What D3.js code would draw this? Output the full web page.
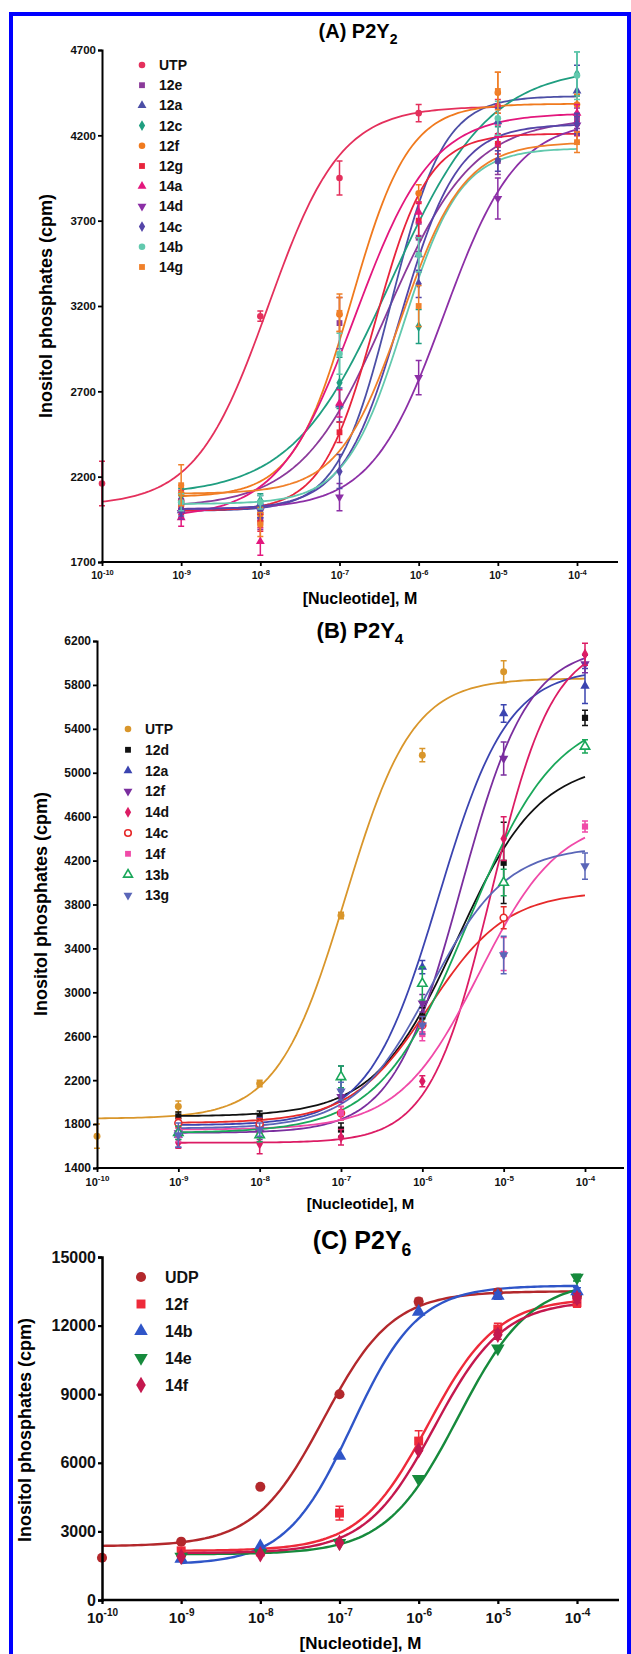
<!DOCTYPE html>
<html>
<head>
<meta charset="utf-8">
<script src="https://cdn.jsdelivr.net/npm/d3@7"></script>
<style>
  body { margin: 0; background: #fff; }
  svg { display: block; font-family: "Liberation Sans", Arial, sans-serif; font-weight: bold; }
</style>
</head>
<body>
<div id="chart"></div>
<script>
// log10 of nucleotide concentration (M) for every measured point
const doses = [-10, -9, -8, -7, -6, -5, -4];
const xTickExp = [-10, -9, -8, -7, -6, -5, -4];

// ---- (A) P2Y2 ----
const aNames = ["UTP", "12e", "12a", "12c", "12f", "12g", "14a", "14d", "14c", "14b", "14g"];
const aYTicks = [1700, 2200, 2700, 3200, 3700, 4200, 4700];
const aMeans = [
  [2160, 2060, 3140, 3950, 4330, 4370, null],
  [null, 2060, 1950, 3100, 3600, 4050, 4300],
  [null, 2000, 2040, 2620, 3500, 4280, 4460],
  [null, 2090, 2060, 2750, 3080, 4150, 4560],
  [null, 2100, 1980, 3150, 3860, 4450, 4380],
  [null, 2020, 1930, 2460, 3700, 4150, 4210],
  [null, 1960, 1820, 2630, 3750, 4200, 4330],
  [null, 1990, 2000, 2080, 2780, 3830, 4260],
  [null, 2010, 2000, 2230, 3330, 4050, 4270],
  [null, 2050, 2050, 2920, 3500, 4300, 4550],
  [null, 2150, 1920, 3160, 3200, 4460, 4160]
];
const aErrs = [
  [130, 60, 30, 100, 50, 40, null],
  [null, 50, 60, 150, 80, 80, 60],
  [null, 40, 50, 100, 100, 80, 150],
  [null, 40, 40, 150, 100, 100, 130],
  [null, 50, 40, 100, 50, 120, 60],
  [null, 40, 50, 60, 100, 60, 50],
  [null, 50, 80, 80, 60, 60, 50],
  [null, 40, 40, 80, 100, 120, 60],
  [null, 40, 40, 100, 80, 60, 60],
  [null, 50, 40, 120, 100, 100, 140],
  [null, 120, 70, 110, 120, 110, 60]
];
// fitted curve: bottom, top, logEC50, hill slope, first and last log dose
const aFits = [
  [2030, 4370, -7.9, 0.95, -10, -5],
  [2020, 4300, -6.4, 0.8, -9, -4],
  [2000, 4430, -6.35, 1.3, -9, -4],
  [2090, 4600, -6.35, 0.7, -9, -4],
  [2080, 4385, -6.85, 1.2, -9, -4],
  [2000, 4210, -6.55, 1.3, -9, -4],
  [1960, 4330, -6.8, 0.9, -9, -4],
  [2010, 4290, -5.68, 0.95, -9, -4],
  [2010, 4265, -6.23, 1.2, -9, -4],
  [2040, 4125, -6.2, 1.2, -9, -4],
  [2100, 4160, -6.22, 1.1, -9, -4]
];

// ---- (B) P2Y4 ----
const bNames = ["UTP", "12d", "12a", "12f", "14d", "14c", "14f", "13b", "13g"];
const bYTicks = [1400, 1800, 2200, 2600, 3000, 3400, 3800, 4200, 4600, 5000, 5400, 5800, 6200];
const bMeans = [
  [1690, 1960, 2170, 3700, 5160, 5920, null],
  [null, 1870, 1870, 1750, 2780, 4180, 5500],
  [null, 1700, 1800, 2230, 3230, 5540, 5790],
  [null, 1720, 1720, 2050, 2900, 5130, 5990],
  [null, 1630, 1620, 1680, 2190, 4400, 6080],
  [null, 1810, 1800, 1900, 2700, 3680, null],
  [null, 1700, 1700, 1900, 2620, 3350, 4510],
  [null, 1720, 1700, 2230, 3080, 4000, 5240],
  [null, 1700, 1750, 2100, 2700, 3340, 4150]
];
const bErrs = [
  [110, 50, 30, 30, 60, 100, null],
  [null, 40, 50, 60, 80, 370, 70],
  [null, 110, 60, 100, 60, 80, 160],
  [null, 60, 60, 50, 80, 150, 80],
  [null, 50, 90, 70, 50, 200, 100],
  [null, 40, 50, 60, 80, 100, null],
  [null, 60, 60, 60, 60, 150, 50],
  [null, 60, 60, 100, 150, 120, 60],
  [null, 110, 60, 80, 80, 170, 120]
];
const bFits = [
  [1850, 5860, -6.95, 1.05, -10, -4],
  [1870, 5100, -5.57, 0.86, -9, -4],
  [1790, 5950, -5.8, 1.02, -9, -4],
  [1720, 6150, -5.53, 1.05, -9, -4],
  [1630, 6200, -5.15, 1.15, -9, -4],
  [1810, 3920, -5.92, 0.91, -9, -4],
  [1750, 4600, -5.3, 0.88, -9, -4],
  [1720, 5550, -5.44, 0.8, -9, -4],
  [1760, 4330, -5.9, 0.93, -9, -4]
];

// ---- (C) P2Y6 ----
const cNames = ["UDP", "12f", "14b", "14e", "14f"];
const cYTicks = [0, 3000, 6000, 9000, 12000, 15000];
const cMeans = [
  [1850, 2550, 4950, 9000, 13050, 13450, 13300],
  [null, 2150, 2100, 3800, 6950, 11850, 13000],
  [null, 1800, 2350, 6300, 12600, 13300, 13500],
  [null, 1900, 2050, 2500, 5300, 11000, 14100],
  [null, 1900, 2000, 2500, 6550, 11600, 13200]
];
const cErrs = [
  [0, 0, 0, 0, 150, 150, 150],
  [null, 100, 100, 300, 450, 250, 200],
  [null, 0, 0, 0, 0, 150, 150],
  [null, 0, 0, 0, 0, 0, 150],
  [null, 0, 0, 0, 0, 200, 200]
];
const cFits = [
  [2350, 13500, -7.2, 1.0, -10, -4],
  [2150, 13200, -5.88, 1.0, -9, -4],
  [1550, 13750, -6.84, 1.04, -9, -4],
  [2000, 14000, -5.5, 0.95, -9, -4],
  [2050, 13100, -5.8, 1.0, -9, -4]
];

// styles
const tri = d3.symbolTriangle, sq = d3.symbolSquare, ci = d3.symbolCircle, di = d3.symbolDiamond;
const styleA = {
  colors: ["#e4305c", "#8b3a9a", "#4c4fa6", "#1f9e80", "#f07a1e", "#e8243c", "#e3177d", "#8c2fa6", "#5445a8", "#62c9ae", "#f0802a"],
  symbols: [ci, sq, tri, di, ci, sq, tri, "inv", di, ci, sq],
  open: []
};
const styleB = {
  colors: ["#d9962b", "#111111", "#3b44b0", "#7a2e9e", "#dc1c64", "#e62a2a", "#f04aa8", "#1aa75a", "#5a66b8"],
  symbols: [ci, sq, tri, "inv", di, ci, sq, tri, "inv"],
  open: ["14c", "13b"]
};
const styleC = {
  colors: ["#b3282c", "#ee2a3a", "#2f55c8", "#168a3c", "#c4184e"],
  symbols: [ci, sq, tri, "inv", di],
  open: []
};

const W = 631, H = 1654;
const svg = d3.select("#chart").append("svg").attr("width", W).attr("height", H);
svg.append("rect").attr("width", W).attr("height", H).attr("fill", "#fff");

// blue frame (open at the bottom)
svg.append("path")
  .attr("d", `M11,${H + 5} L11,14 L629,14 L629,${H + 5}`)
  .attr("fill", "none").attr("stroke", "#0000ff").attr("stroke-width", 4);

const panels = [
  { title: "(A) P2Y", sub: "2", names: aNames, means: aMeans, errs: aErrs, fits: aFits, yTicks: aYTicks, style: styleA,
    L: { x0: 102, x1: 577, xEnd: 618, yTop: 50, yBot: 562, titleX: 358, titleY: 38, titleSize: 20,
         ylabX: 46, ylabY: 306, ylabSize: 18, xlabY: 604, xlabSize: 16, yTickSize: 11.5, xTickSize: 10.5, supSize: 7.5,
         xTickPad: 6, legX: 142, legY: 65, legDy: 20.2, legSize: 14, legDx: 17, legMark: 34, mark: 34, lineW: 1.8, axisW: 2, cap: 3 } },
  { title: "(B) P2Y", sub: "4", names: bNames, means: bMeans, errs: bErrs, fits: bFits, yTicks: bYTicks, style: styleB,
    L: { x0: 97, x1: 585, xEnd: 624, yTop: 641, yBot: 1168, titleX: 360, titleY: 638, titleSize: 22,
         ylabX: 41, ylabY: 904, ylabSize: 18, xlabY: 1209, xlabSize: 15, yTickSize: 12, xTickSize: 11, supSize: 8,
         xTickPad: 6, legX: 128, legY: 729, legDy: 20.8, legSize: 14, legDx: 17, legMark: 34, mark: 38, lineW: 1.8, axisW: 2, cap: 3 } },
  { title: "(C) P2Y", sub: "6", names: cNames, means: cMeans, errs: cErrs, fits: cFits, yTicks: cYTicks, style: styleC,
    L: { x0: 102, x1: 577, xEnd: 619, yTop: 1257, yBot: 1600, titleX: 362, titleY: 1249, titleSize: 25,
         ylabX: 25, ylabY: 1430, ylabSize: 18, xlabY: 1649, xlabSize: 17, yTickSize: 16, xTickSize: 15, supSize: 10,
         xTickPad: 8, legX: 141, legY: 1277, legDy: 27, legSize: 16, legDx: 24, legMark: 80, mark: 80, lineW: 2.4, axisW: 2.5, cap: 4 } }
];

function symbolPath(type, size) {
  if (type === "inv") return d3.symbol().type(d3.symbolTriangle).size(size)();
  return d3.symbol().type(type).size(size)();
}

function drawMarker(g, type, size, color, open, x, y) {
  g.append("path")
    .attr("d", symbolPath(type, size))
    .attr("transform", `translate(${x},${y})` + (type === "inv" ? " rotate(180)" : ""))
    .attr("fill", open ? "#fff" : color)
    .attr("stroke", open ? color : "none")
    .attr("stroke-width", open ? 1.6 : 0);
}

function logistic(f, e) {
  return f[0] + (f[1] - f[0]) / (1 + Math.pow(10, (f[2] - e) * f[3]));
}

panels.forEach(p => {
  const L = p.L;
  const g = svg.append("g");

  const x = d3.scaleLog().domain([1e-10, 1e-4]).range([L.x0, L.x1]);
  const y = d3.scaleLinear().domain(d3.extent(p.yTicks)).range([L.yBot, L.yTop]);

  // title with subscript
  const t = g.append("text").attr("x", L.titleX).attr("y", L.titleY)
    .attr("text-anchor", "middle").attr("font-size", L.titleSize).text(p.title);
  t.append("tspan").attr("font-size", L.titleSize * 0.7).attr("dy", L.titleSize * 0.28).text(p.sub);

  // curves
  p.fits.forEach((f, i) => {
    const pts = d3.range(0, 121).map(k => f[4] + (f[5] - f[4]) * k / 120);
    g.append("path")
      .datum(pts)
      .attr("fill", "none")
      .attr("stroke", p.style.colors[i])
      .attr("stroke-width", L.lineW)
      .attr("d", d3.line().x(e => x(Math.pow(10, e))).y(e => y(logistic(f, e))));
  });

  // error bars and markers
  p.means.forEach((row, i) => {
    const col = p.style.colors[i];
    const open = p.style.open.includes(p.names[i]);
    row.forEach((m, j) => {
      if (m === null) return;
      const cx = x(Math.pow(10, doses[j]));
      const e = p.errs[i][j];
      if (e) {
        const y1 = y(m - e), y2 = y(m + e);
        g.append("path")
          .attr("d", `M${cx},${y1}V${y2}M${cx - L.cap},${y1}H${cx + L.cap}M${cx - L.cap},${y2}H${cx + L.cap}`)
          .attr("stroke", col).attr("stroke-width", 1.5).attr("fill", "none");
      }
      drawMarker(g, p.style.symbols[i], L.mark, col, open, cx, y(m));
    });
  });

  // axes
  const yAxis = g.append("g").attr("transform", `translate(${L.x0},0)`)
    .call(d3.axisLeft(y).tickValues(p.yTicks).tickSize(4).tickPadding(2).tickFormat(d3.format("d")));
  yAxis.select(".domain").attr("stroke-width", L.axisW);
  yAxis.selectAll(".tick line").attr("stroke-width", L.axisW * 0.9);
  yAxis.selectAll("text").attr("font-size", L.yTickSize).attr("font-family", null).attr("fill", "#111");

  const xAxis = g.append("g").attr("transform", `translate(0,${L.yBot})`)
    .call(d3.axisBottom(x).tickValues(xTickExp.map(e => Math.pow(10, e))).tickSize(4).tickPadding(L.xTickPad).tickFormat(() => ""));
  xAxis.select(".domain").attr("d", `M${L.x0 - 1},0H${L.xEnd}`).attr("stroke-width", L.axisW);
  xAxis.selectAll(".tick line").attr("stroke-width", L.axisW * 0.9);
  xAxis.selectAll(".tick text").each(function (d) {
    const tx = d3.select(this).attr("font-size", L.xTickSize).attr("font-family", null).attr("fill", "#111");
    tx.append("tspan").text("10");
    tx.append("tspan").attr("font-size", L.supSize).attr("dy", -L.xTickSize * 0.45)
      .text(Math.round(Math.log10(d)));
  });

  // axis titles
  g.append("text")
    .attr("transform", `translate(${L.ylabX},${L.ylabY}) rotate(-90)`)
    .attr("text-anchor", "middle").attr("dominant-baseline", "central")
    .attr("font-size", L.ylabSize).text("Inositol phosphates (cpm)");
  g.append("text").attr("x", (L.x0 + L.xEnd) / 2).attr("y", L.xlabY)
    .attr("text-anchor", "middle").attr("font-size", L.xlabSize).text("[Nucleotide], M");

  // legend
  p.names.forEach((n, i) => {
    const ly = L.legY + i * L.legDy;
    drawMarker(g, p.style.symbols[i], L.legMark, p.style.colors[i], p.style.open.includes(n), L.legX, ly);
    g.append("text").attr("x", L.legX + L.legDx).attr("y", ly)
      .attr("dominant-baseline", "central").attr("font-size", L.legSize).attr("fill", "#111").text(n);
  });
});
</script>
</body>
</html>
